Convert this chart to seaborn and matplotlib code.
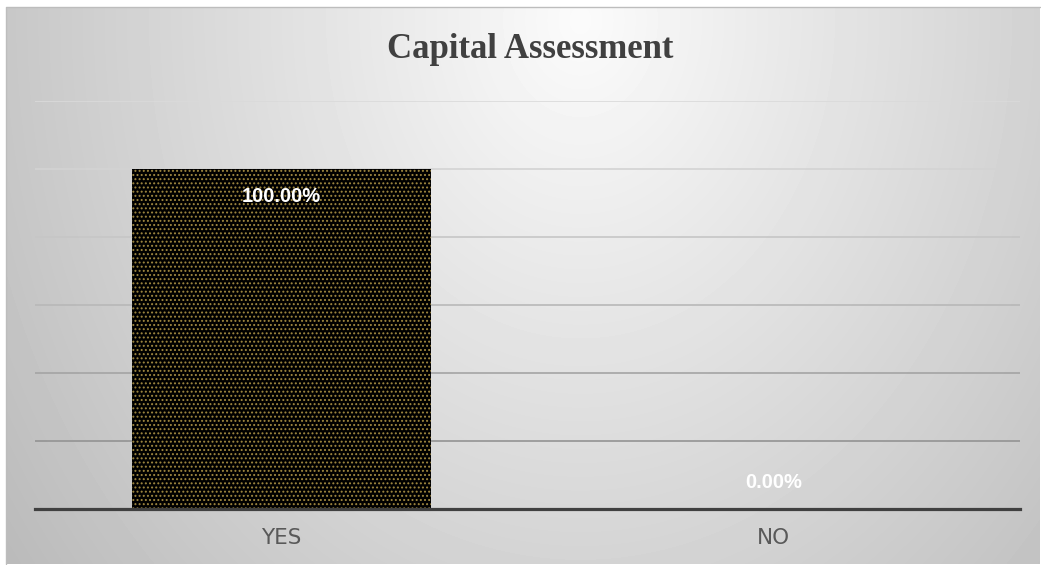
import numpy as np
import pandas as pd
import matplotlib
matplotlib.use("Agg")
import matplotlib.pyplot as plt
import seaborn as sns

# Survey result: share of respondents reporting a capital assessment
categories = ["YES", "NO"]
shares = [1.0, 0.0]
value_labels = ["100.00%", "0.00%"]
title_text = "Capital Assessment"

df = pd.DataFrame({"answer": categories, "share": shares})

sns.set_theme(style="white")
plt.rcParams["hatch.linewidth"] = 0.9
dot_color = "#a08840"

W, H, DPI = 1041, 565, 100
fig = plt.figure(figsize=(W / DPI, H / DPI), dpi=DPI, facecolor="white")

# Chart area with a soft radial grey gradient
x0, x1, y0, y1 = 6, 1040, 7, 564
bg = fig.add_axes([x0 / W, 1 - y1 / H, (x1 - x0) / W, (y1 - y0) / H], zorder=0)
xx, yy = np.meshgrid(np.arange(x0, x1), np.arange(y0, y1))
dist = np.sqrt((0.090 * (xx - 580)) ** 2 + (0.072 * (yy - 20)) ** 2)
grey = np.clip(251 - dist, 185, 255) / 255.0
bg.imshow(grey, cmap="gray", vmin=0, vmax=1, aspect="auto", interpolation="bilinear")
bg.set_axis_off()
bg.plot([0, 0, 1], [0, 1, 1], transform=bg.transAxes, color="#bdbdbd", lw=1.0,
        clip_on=False)

# Plot area
ax_left, ax_right, ax_top, ax_bottom = 35, 1020, 101, 509
ax = fig.add_axes([ax_left / W, 1 - ax_bottom / H, (ax_right - ax_left) / W,
                   (ax_bottom - ax_top) / H], zorder=1)
ax.set_facecolor("none")

sns.barplot(data=df, x="answer", y="share", ax=ax, color="black", width=0.607,
            saturation=1, edgecolor=dot_color, linewidth=0, zorder=3)
for p in ax.patches:
    p.set_hatch("....")
    p.set_edgecolor(dot_color)
    p.set_linewidth(0)

ax.set_ylim(0, 1.2)
ax.set_xlim(-0.5, 1.5)
ax.set_yticks(np.arange(0, 1.21, 0.2))
ax.yaxis.grid(True, lw=1.2, zorder=0)
ax.set_axisbelow(True)
# gridlines fade from darker near the baseline to faint at the top
grid_colors = ["#8c8c8c", "#939393", "#a4a4a4", "#b8b8b8", "#c6c6c6", "#d3d3d3", "#dadada"]
for gl, c in zip(ax.yaxis.get_gridlines(), grid_colors):
    gl.set_color(c)
ax.tick_params(axis="y", left=False, labelleft=False)
ax.tick_params(axis="x", bottom=False, pad=8)
for lab in ax.get_xticklabels():
    lab.set_family(["Liberation Sans Narrow", "DejaVu Sans"])
    lab.set_fontsize(15.5)
    lab.set_color("#595959")
ax.set_xlabel("")
ax.set_ylabel("")
for side in ["top", "right", "left"]:
    ax.spines[side].set_visible(False)
ax.spines["bottom"].set_color("#404040")
ax.spines["bottom"].set_linewidth(2.3)
ax.spines["bottom"].set_zorder(4)

# Value labels just inside the end of each bar
for i, (v, txt) in enumerate(zip(shares, value_labels)):
    off = -27 if v > 0 else 26
    ax.annotate(txt, xy=(i, v), xytext=(0, off * 72 / DPI), textcoords="offset points",
                ha="center", va="center", color="white", fontsize=14.5,
                fontweight="bold", family=["Liberation Sans", "DejaVu Sans"], zorder=5)

fig.text(530 / W, 1 - 50 / H, title_text, ha="center", va="center",
         family=["Liberation Serif", "DejaVu Serif"], fontweight="bold",
         fontsize=25, color="#404040", zorder=6)

fig.savefig("out.png", dpi=DPI, facecolor="white")
